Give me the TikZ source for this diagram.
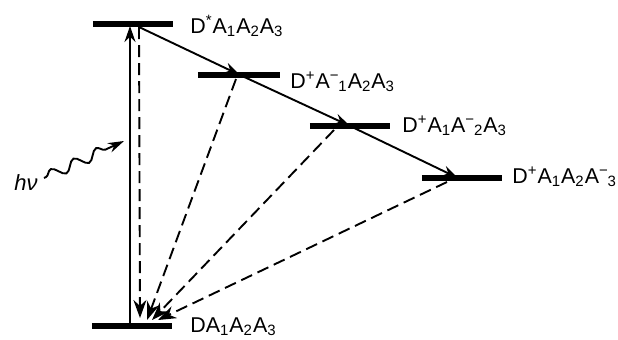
\documentclass[tikz,border=0pt]{standalone}
\usepackage{fontspec}
\setmainfont{Liberation Sans}
\usetikzlibrary{arrows.meta,decorations.pathmorphing}
\newcommand\sbx[1]{\textsubscript{#1}}
\newcommand\spx[1]{\textsuperscript{#1}}
\newcommand\mnx[1]{\textsuperscript{−}\kern-0.6pt\textsubscript{#1}}
\begin{document}
\begin{tikzpicture}[x=0.5pt,y=-0.5pt,
 levelbar/.style={line width=3pt},
 lbl/.style={anchor=base west,inner sep=0pt,font=\fontsize{10.7}{13}\selectfont},
 xfer/.style={line width=0.95pt,-{Stealth[length=8pt,width=5.5pt]}},
 decay/.style={line width=0.95pt,dash pattern=on 6pt off 3pt,-{Stealth[length=9pt,width=6.5pt]}},
 photon/.style={line width=0.95pt,-{Stealth[length=8pt,width=5pt]},decorate,
   decoration={snake,amplitude=2.6pt,segment length=12.5pt,pre length=1pt,post length=6pt}}]
\useasboundingbox (0,0) rectangle (618,339);
% levels
\coordinate (a0) at (93,24);  \coordinate (b0) at (173,24);
\coordinate (a1) at (198,75); \coordinate (b1) at (280,75);
\coordinate (a2) at (310,126);\coordinate (b2) at (390,126);
\coordinate (a3) at (422,178);\coordinate (b3) at (502,178);
\coordinate (ag) at (92,326); \coordinate (bg) at (172,326);
\draw[levelbar] (a0) -- (b0);
\draw[levelbar] (a1) -- (b1);
\draw[levelbar] (a2) -- (b2);
\draw[levelbar] (a3) -- (b3);
\draw[levelbar] (ag) -- (bg);
% labels
\node[lbl] (t0) at (190,33) {D\spx{*}A\sbx{1}A\sbx{2}A\sbx{3}};
\node[lbl] (t1) at (290,88) {D\spx{+}A\mnx{1}A\sbx{2}A\sbx{3}};
\node[lbl] (t2) at (402,132) {D\spx{+}A\sbx{1}A\mnx{2}A\sbx{3}};
\node[lbl] (t3) at (512,183) {D\spx{+}A\sbx{1}A\sbx{2}A\mnx{3}};
\node[lbl] (tg) at (190,332) {DA\sbx{1}A\sbx{2}A\sbx{3}};
% excitation
\coordinate (exB) at (130,324);
\coordinate (exT) at (130,26);
\draw[xfer] (exB) -- (exT);
\node[anchor=east,inner sep=0pt,font=\fontsize{11}{13}\selectfont\itshape] (hv) at (38,183) {hν};
\coordinate (w0) at (44,178);
\coordinate (w1) at (124,141);
\draw[photon] (w0) -- (w1);
% forward electron transfer
\coordinate (s0) at (139,27);
\coordinate (s1) at (240,75);
\coordinate (s2) at (350,126);
\coordinate (s3) at (458,178);
\draw[xfer] (s0) -- (s1);
\draw[xfer] (s1) -- (s2);
\draw[xfer] (s2) -- (s3);
% recombination
\coordinate (d1) at (236,79);
\coordinate (d2) at (334,130);
\coordinate (d3) at (447,182);
\coordinate (g0) at (140,318);
\coordinate (g1) at (147,320);
\coordinate (g2) at (152,320);
\coordinate (g3) at (158,320);
\draw[decay] (s0) -- (g0);
\draw[decay] (d1) -- (g1);
\draw[decay] (d2) -- (g2);
\draw[decay] (d3) -- (g3);
\end{tikzpicture}
\end{document}
